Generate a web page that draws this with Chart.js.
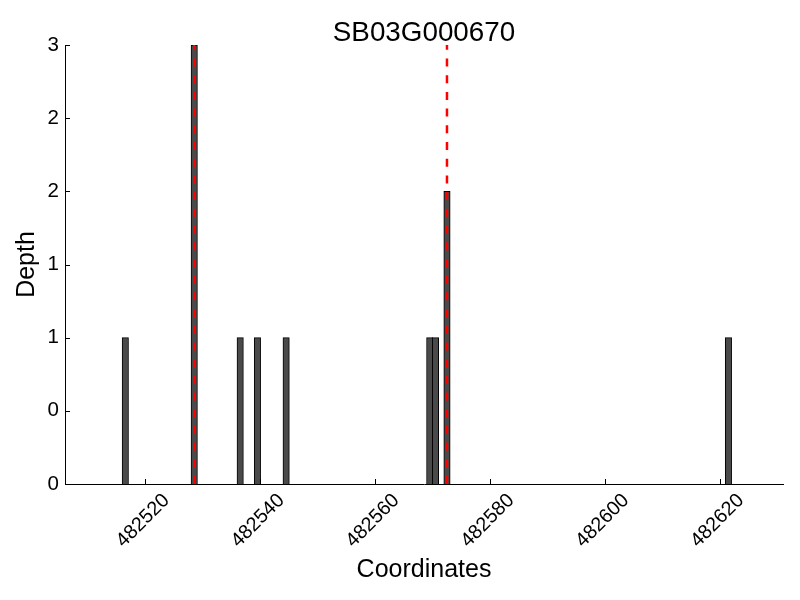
<!DOCTYPE html>
<html><head><meta charset="utf-8">
<script src="https://cdn.jsdelivr.net/npm/chart.js@4"></script>
<style>html,body{margin:0;padding:0;background:#fff}#wrap{width:800px;height:600px}</style>
</head><body><div id="wrap"><canvas id="c" width="800" height="600"></canvas></div>
<script>
const chartTitle = 'SB03G000670';
const xLabel = 'Coordinates';
const yLabel = 'Depth';
const positions = [482516, 482528, 482536, 482539, 482544, 482569, 482570, 482572, 482621];
const depths = [1, 3, 1, 1, 1, 1, 1, 2, 1];
const markerPositions = [482528, 482572];
const xTicks = [482520, 482540, 482560, 482580, 482600, 482620];
const yTicks = [0, 0.5, 1, 1.5, 2, 2.5, 3];
const xRange = [482506, 482631];
const yRange = [0, 3];

const FONT = "'Liberation Sans', Arial, Helvetica, sans-serif";
Chart.defaults.font.family = FONT;
Chart.defaults.color = '#000';

const overlay = {
  id: 'overlay',
  afterDatasetsDraw(chart) {
    const {ctx, chartArea: a, scales: {x}} = chart;
    ctx.save();
    ctx.strokeStyle = '#ff0000';
    ctx.lineWidth = 2.5;
    ctx.setLineDash([8, 8.7]);
    markerPositions.forEach(p => {
      const px = x.getPixelForValue(p + 0.5);
      ctx.beginPath(); ctx.moveTo(px, a.bottom); ctx.lineTo(px, a.top); ctx.stroke();
    });
    ctx.restore();
  },
  afterDraw(chart) {
    const {ctx, chartArea: a, scales: {x, y}} = chart;
    ctx.save();
    ctx.strokeStyle = '#000';
    ctx.lineWidth = 1;
    ctx.beginPath();
    xTicks.forEach(v => {
      const px = Math.round(x.getPixelForValue(v)) + 0.5;
      ctx.moveTo(px, a.bottom); ctx.lineTo(px, a.bottom - 5);
    });
    yTicks.forEach(v => {
      const py = Math.round(y.getPixelForValue(v)) + 0.5;
      ctx.moveTo(a.left, py); ctx.lineTo(a.left + 5, py);
    });
    ctx.stroke();
    ctx.fillStyle = '#000';
    ctx.font = '27.8px ' + FONT;
    ctx.textAlign = 'center';
    ctx.textBaseline = 'alphabetic';
    ctx.fillText(chartTitle, (a.left + a.right) / 2, 40.5);
    ctx.restore();
  }
};

new Chart(document.getElementById('c'), {
  type: 'bar',
  data: {
    datasets: [{
      data: positions.map((p, i) => ({x: p + 0.5, y: depths[i]})),
      backgroundColor: '#4a4a4a',
      borderColor: '#000',
      borderWidth: 1,
      barThickness: 6.4
    }]
  },
  options: {
    responsive: false,
    animation: false,
    events: [],
    layout: {padding: {top: 45, right: 17, bottom: 0, left: 0}},
    plugins: {legend: {display: false}, tooltip: {enabled: false}, title: {display: false}},
    scales: {
      x: {
        type: 'linear',
        offset: false,
        min: xRange[0], max: xRange[1],
        afterBuildTicks: s => { s.ticks = xTicks.map(v => ({value: v})); },
        afterFit: s => { s.height = 116; },
        grid: {display: false, drawTicks: false, tickLength: 0, offset: false},
        border: {display: true, color: '#000', width: 1},
        ticks: {autoSkip: false, maxRotation: 45, minRotation: 45, labelOffset: 21, padding: 5,
                font: {size: 19.8}, color: '#000', callback: v => String(v)},
        title: {display: true, text: xLabel, font: {size: 25}, color: '#000', padding: {top: 0, bottom: 15}}
      },
      y: {
        min: yRange[0], max: yRange[1],
        afterBuildTicks: s => { s.ticks = yTicks.map(v => ({value: v})); },
        afterFit: s => { s.width = 65; },
        grid: {display: false, drawTicks: false, tickLength: 0},
        border: {display: true, color: '#000', width: 1},
        ticks: {padding: 6, font: {size: 20.5}, color: '#000', callback: v => String(Math.floor(v))},
        title: {display: true, text: yLabel, font: {size: 25}, color: '#000', padding: {top: 12, bottom: 0}}
      }
    }
  },
  plugins: [overlay]
});
</script>
</body></html>
